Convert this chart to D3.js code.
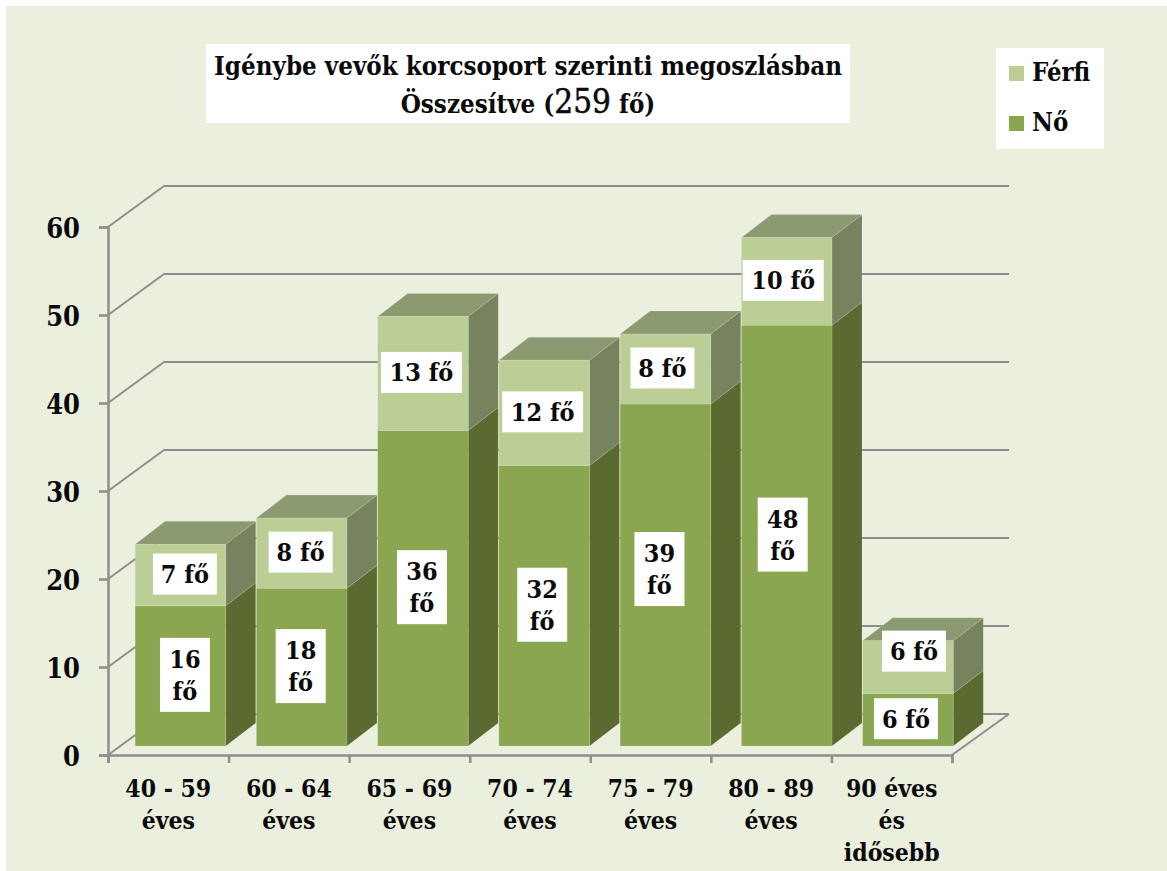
<!DOCTYPE html>
<html>
<head>
<meta charset="utf-8">
<script src="https://cdn.jsdelivr.net/npm/d3@7"></script>
<style>
  html, body { margin: 0; padding: 0; background: #fff; overflow: hidden; }
  text { font-family: "DejaVu Serif Condensed", "DejaVu Serif", serif; font-weight: bold; fill: #0a0a0a; }
</style>
</head>
<body>
<script>
// data
var categories = ["40 - 59", "60 - 64", "65 - 69", "70 - 74", "75 - 79", "80 - 89", "90 éves"];
var categoryLines = [["40 - 59", "éves"], ["60 - 64", "éves"], ["65 - 69", "éves"], ["70 - 74", "éves"], ["75 - 79", "éves"], ["80 - 89", "éves"], ["90 éves", "és", "idősebb"]];
var noValues = [16, 18, 36, 32, 39, 48, 6];
var ferfiValues = [7, 8, 13, 12, 8, 10, 6];
var yTicks = [0, 10, 20, 30, 40, 50, 60];
var legendNames = ["Férfi", "Nő"];

var w = 1167;
var h = 871;

// layout of the fake 3d box
var depthX = 56, depthY = 41;
var barDepthX = 30, barDepthY = 23;
var gray = "#8e8e8e";

var svg = d3.select("body").append("svg")
  .attr("width", w)
  .attr("height", h)
  .style("display", "block");

svg.append("rect").attr("x", 6).attr("y", 6).attr("width", w - 6).attr("height", h - 6).attr("fill", "#ebefde");

var yScale = d3.scaleLinear().domain([0, 60]).range([755, 227]);
// bars stand a little way back on the floor so they get their own scales
var barY = d3.scaleLinear().domain([0, 60]).range([746, 220]);
var xScale = d3.scaleBand().domain(categories).range([120, 968.4]).paddingInner(0.253).paddingOuter(0.125);
var edgeScale = d3.scaleLinear().domain([0, categories.length]).range([108, 952]);

// back wall + left wall lines
var grid = svg.append("g");
grid.selectAll("line.back")
  .data(yTicks)
  .enter()
  .append("line")
  .attr("class", "back")
  .attr("x1", 108 + depthX)
  .attr("x2", 952 + depthX + 1)
  .attr("y1", function(d) { return yScale(d) - depthY; })
  .attr("y2", function(d) { return yScale(d) - depthY; })
  .attr("stroke", gray)
  .attr("stroke-width", 2);
grid.selectAll("line.side")
  .data(yTicks)
  .enter()
  .append("line")
  .attr("class", "side")
  .attr("x1", 108)
  .attr("x2", 108 + depthX)
  .attr("y1", function(d) { return yScale(d); })
  .attr("y2", function(d) { return yScale(d) - depthY; })
  .attr("stroke", gray)
  .attr("stroke-width", 2);
grid.append("line")
  .attr("x1", 952).attr("x2", 952 + depthX + 1)
  .attr("y1", yScale(0)).attr("y2", yScale(0) - depthY)
  .attr("stroke", gray).attr("stroke-width", 2);

// axes
var yAxis = d3.axisLeft(yScale).tickValues(yTicks).tickSize(9).tickPadding(19).tickFormat(d3.format("d"));
var yG = svg.append("g").attr("transform", "translate(108,0)").call(yAxis);
yG.selectAll("path, line").attr("stroke", gray).attr("stroke-width", 2.5);
yG.selectAll("text").style("font-size", "27px").attr("fill", "#0a0a0a").attr("dy", "0.4em");

var xAxis = d3.axisBottom(edgeScale).tickValues(d3.range(categories.length + 1)).tickSize(8).tickFormat("");
var xG = svg.append("g").attr("transform", "translate(0,755)").call(xAxis);
xG.selectAll("path, line").attr("stroke", gray).attr("stroke-width", 2.5);

svg.selectAll("text.cat")
  .data(categoryLines)
  .enter()
  .append("text")
  .attr("class", "cat")
  .attr("text-anchor", "middle")
  .style("font-size", "24.5px")
  .each(function(lines, i) {
    var cx = (edgeScale(i) + edgeScale(i + 1)) / 2;
    d3.select(this).selectAll("tspan")
      .data(lines)
      .enter()
      .append("tspan")
      .attr("x", cx)
      .attr("y", function(d, j) { return 797 + j * 32; })
      .text(function(d) { return d; });
  });

// one box face helpers
function frontFace(x, y0, y1) {
  return [[x, y0], [x + xScale.bandwidth(), y0], [x + xScale.bandwidth(), y1], [x, y1]];
}
function sideFace(x, y0, y1) {
  var r = x + xScale.bandwidth();
  return [[r, y0], [r + barDepthX, y0 - barDepthY], [r + barDepthX, y1 - barDepthY], [r, y1]];
}
function topFace(x, y1) {
  var r = x + xScale.bandwidth();
  return [[x, y1], [x + barDepthX, y1 - barDepthY], [r + barDepthX, y1 - barDepthY], [r, y1]];
}
function pts(p) {
  return p.join(" ");
}

var bars = svg.selectAll("g.bar")
  .data(categories)
  .enter()
  .append("g")
  .attr("class", "bar")
  .attr("stroke", "#fff")
  .attr("stroke-opacity", 0.13);

bars.each(function(c, i) {
  var g = d3.select(this);
  var x = xScale(c);
  var a = barY(0), b = barY(noValues[i]), t = barY(noValues[i] + ferfiValues[i]);
  g.append("polygon").attr("points", pts(sideFace(x, a, b))).attr("fill", "#5a6a30");
  g.append("polygon").attr("points", pts(sideFace(x, b, t))).attr("fill", "#77825e");
  g.append("polygon").attr("points", pts(topFace(x, t))).attr("fill", "#8b9a70");
  g.append("polygon").attr("points", pts(frontFace(x, a, b))).attr("fill", "#8ba650");
  g.append("polygon").attr("points", pts(frontFace(x, b, t))).attr("fill", "#bbce95");
});

// label boxes, nudged the way they sit in the picture
var noNudgeX = [4.5, -1, -1, -2, -6, -4, -2];
var ferfiNudgeX = [4.5, -1, -1.5, -1.5, -3, -3.5, 6];
var noNudgeY = [0, 0, 0, 0, -5, 0, 0];
var ferfiNudgeY = [0, 0, 0, 0, 0, 0, -15];

function label(cx, cy, lines) {
  var g = svg.append("g");
  var bw = lines.length > 1 ? 50 : (String(lines[0]).length > 4 ? 81 : 64);
  var bh = lines.length > 1 ? 74 : 41;
  g.append("rect")
    .attr("x", cx - bw / 2).attr("y", cy - bh / 2)
    .attr("width", bw).attr("height", bh)
    .attr("fill", "#fff");
  g.selectAll("text")
    .data(lines)
    .enter()
    .append("text")
    .attr("text-anchor", "middle")
    .attr("x", cx)
    .attr("y", function(d, j) { return cy + 9 + (j - (lines.length - 1) / 2) * 32; })
    .style("font-size", "25px")
    .text(function(d) { return d; });
}

categories.forEach(function(c, i) {
  var cx = xScale(c) + xScale.bandwidth() / 2;
  var a = barY(0), b = barY(noValues[i]), t = barY(noValues[i] + ferfiValues[i]);
  var nv = noValues[i], fv = ferfiValues[i];
  label(cx + noNudgeX[i], (a + b) / 2 - 1 + noNudgeY[i], nv >= 10 ? [nv, "fő"] : [nv + " fő"]);
  label(cx + ferfiNudgeX[i], (b + t) / 2 - 1 + ferfiNudgeY[i], [fv + " fő"]);
});

// title
svg.append("rect").attr("x", 206).attr("y", 44).attr("width", 644).attr("height", 79).attr("fill", "#fff");
svg.append("text")
  .attr("x", 528).attr("y", 75)
  .attr("text-anchor", "middle")
  .style("font-size", "25.7px")
  .text("Igénybe vevők korcsoport szerinti megoszlásban");
var t2 = svg.append("text")
  .attr("x", 528).attr("y", 113)
  .attr("text-anchor", "middle")
  .style("font-size", "25.7px");
t2.append("tspan").text("Összesítve (");
t2.append("tspan").style("font-size", "33px").style("font-weight", "normal")
  .attr("stroke", "#0a0a0a").attr("stroke-width", 0.5).text("259");
t2.append("tspan").text(" fő)");

// legend
svg.append("rect").attr("x", 996).attr("y", 48).attr("width", 108).attr("height", 101).attr("fill", "#fff");
var legendColors = d3.scaleOrdinal().domain(legendNames).range(["#bbce95", "#8ba650"]);
var legend = svg.selectAll("g.legend")
  .data(legendNames)
  .enter()
  .append("g")
  .attr("class", "legend")
  .attr("transform", function(d, i) { return "translate(1009," + (66 + i * 50) + ")"; });
legend.append("rect").attr("width", 15).attr("height", 15).attr("fill", function(d) { return legendColors(d); });
legend.append("text").attr("x", 23).attr("y", 15).style("font-size", "25.5px").text(function(d) { return d; });
</script>
</body>
</html>
